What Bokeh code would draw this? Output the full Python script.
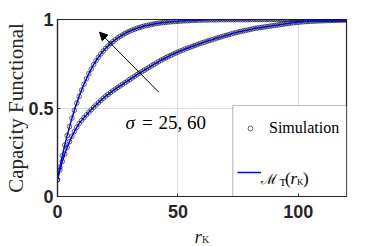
import math
from bokeh.plotting import figure
from bokeh.layouts import column
from bokeh.models import (FixedTicker, Label, Legend, LegendItem, Arrow,
                          NormalHead, ColumnDataSource, Range1d, BoxAnnotation)
from bokeh.embed import file_html
from bokeh.resources import INLINE

# ---------------- data ----------------
r_k = list(range(0, 121))

cap_sigma25 = [
    0.095, 0.165, 0.230, 0.290, 0.344, 0.395, 0.443, 0.487, 0.528, 0.566,
    0.601, 0.634, 0.665, 0.694, 0.720, 0.745, 0.767, 0.787, 0.806, 0.822,
    0.837, 0.851, 0.864, 0.875, 0.886, 0.896, 0.905, 0.913, 0.921, 0.928,
    0.934, 0.940, 0.945, 0.950, 0.955, 0.959, 0.963, 0.966, 0.969, 0.972,
    0.975, 0.977, 0.979, 0.981, 0.983, 0.984, 0.986, 0.987, 0.988, 0.989,
    0.990, 0.991, 0.992, 0.993, 0.993, 0.994, 0.995, 0.995, 0.996, 0.996,
    0.997, 0.997, 0.997, 0.998, 0.998, 0.998, 0.998, 0.999, 0.999, 0.999,
    0.999, 0.999, 0.999, 0.999, 0.999, 0.999, 0.999, 0.999, 0.999, 0.999,
    0.999, 1.000, 1.000, 1.000, 1.000, 1.000, 1.000, 1.000, 1.000, 1.000,
    1.000, 1.000, 1.000, 1.000, 1.000, 1.000, 1.000, 1.000, 1.000, 1.000,
    1.000, 1.000, 1.000, 1.000, 1.000, 1.000, 1.000, 1.000, 1.000, 1.000,
    1.000, 1.000, 1.000, 1.000, 1.000, 1.000, 1.000, 1.000, 1.000, 1.000,
    1.000,
]

cap_sigma60 = [
    0.095, 0.150, 0.198, 0.240, 0.277, 0.310, 0.340, 0.367, 0.391, 0.412,
    0.430, 0.446, 0.461, 0.476, 0.490, 0.504, 0.517, 0.530, 0.543, 0.555,
    0.567, 0.577, 0.587, 0.597, 0.607, 0.616, 0.625, 0.634, 0.643, 0.652,
    0.661, 0.670, 0.679, 0.688, 0.697, 0.705, 0.713, 0.721, 0.730, 0.738,
    0.746, 0.754, 0.762, 0.770, 0.777, 0.784, 0.791, 0.797, 0.804, 0.810,
    0.816, 0.822, 0.827, 0.833, 0.838, 0.843, 0.848, 0.853, 0.858, 0.863,
    0.868, 0.872, 0.877, 0.881, 0.885, 0.890, 0.894, 0.898, 0.902, 0.906,
    0.910, 0.914, 0.918, 0.922, 0.925, 0.929, 0.932, 0.935, 0.938, 0.941,
    0.944, 0.947, 0.950, 0.952, 0.954, 0.956, 0.958, 0.960, 0.962, 0.964,
    0.966, 0.968, 0.970, 0.972, 0.974, 0.976, 0.978, 0.980, 0.981, 0.983,
    0.984, 0.986, 0.987, 0.988, 0.989, 0.990, 0.990, 0.991, 0.992, 0.992,
    0.993, 0.993, 0.994, 0.994, 0.995, 0.995, 0.996, 0.996, 0.996, 0.997,
    0.997,
]

x_ticks = [0, 50, 100]
x_tick_labels = ["0", "50", "100"]
y_ticks = [0, 0.5, 1]
y_tick_labels = ["0", "0.5", "1"]

x_label = ("r", "K")
y_label = "Capacity Functional"
legend_labels = ["Simulation", "\u2133", "T", "(", "r", "K", ")"]
annotation_text = ("\u03c3", "=", "25, 60")

# ---------------- main figure ----------------
W, H1, H2 = 382, 226, 20
ML, MR, MT, MB = 57, 36, 19, 30
p1 = figure(width=W, height=H1, x_range=Range1d(0, 120), y_range=Range1d(0, 1),
            output_backend="svg", toolbar_location=None,
            min_border_left=ML, min_border_right=MR,
            min_border_top=MT, min_border_bottom=MB)
p1.background_fill_color = "white"
p1.border_fill_color = "white"
p1.outline_line_color = "#262626"
p1.outline_line_width = 1.2
p1.outline_line_alpha = 1.0

AX = "#262626"
for ax in (p1.xaxis[0], p1.yaxis[0]):
    ax.axis_line_color = AX
    ax.axis_line_width = 1.2
    ax.major_tick_line_color = AX
    ax.major_tick_in = 3
    ax.major_tick_out = 0
    ax.minor_tick_line_color = None
    ax.major_label_text_font = "Liberation Sans"
    ax.major_label_text_font_style = "bold"
    ax.major_label_text_font_size = "18px"
    ax.major_label_text_color = AX
p1.xaxis.ticker = FixedTicker(ticks=x_ticks)
p1.yaxis.ticker = FixedTicker(ticks=y_ticks)
p1.xaxis.major_label_overrides = {t: s for t, s in zip(x_ticks, x_tick_labels)}
p1.yaxis.major_label_overrides = {t: s for t, s in zip(y_ticks, y_tick_labels)}
p1.xaxis.major_label_standoff = 8
p1.yaxis.major_label_standoff = 4
p1.yaxis.major_label_text_align = "right"

p1.yaxis.axis_label = y_label
p1.yaxis.axis_label_text_font = "Liberation Serif"
p1.yaxis.axis_label_text_font_style = "normal"
p1.yaxis.axis_label_text_font_size = "21px"
p1.yaxis.axis_label_text_color = AX
p1.yaxis.axis_label_standoff = -3

p1.xgrid.ticker = FixedTicker(ticks=x_ticks)
p1.ygrid.ticker = FixedTicker(ticks=y_ticks)
p1.grid.grid_line_color = "#dedede"
p1.grid.grid_line_width = 1

# pixel -> data helpers (main figure pixel coordinates)
FX0, FX1 = ML, W - MR
FY0, FY1 = MT, H1 - MB
def dx(px):
    return (px - FX0) / (FX1 - FX0) * 120.0
def dy(py):
    return (FY1 - py) / (FY1 - FY0)

# legend box (above grid, below glyphs)
p1.add_layout(BoxAnnotation(left=dx(232.3), top=dy(105), fill_color="white",
                            fill_alpha=1.0, line_color=AX, line_width=1.2,
                            level="underlay"))

# ---------------- glyphs ----------------
src = ColumnDataSource(dict(r=r_k, s25=cap_sigma25, s60=cap_sigma60))
sc1 = p1.scatter("r", "s25", source=src, marker="circle", size=4.6,
                 fill_color=None, line_color="black", line_width=0.6)
sc2 = p1.scatter("r", "s60", source=src, marker="circle", size=4.6,
                 fill_color=None, line_color="black", line_width=0.6)
l1 = p1.line("r", "s25", source=src, line_color="#0000ff", line_width=1.5)
l2 = p1.line("r", "s60", source=src, line_color="#0000ff", line_width=1.5)

# ---------------- legend entries ----------------
leg_a = Legend(items=[LegendItem(label=legend_labels[0], renderers=[sc1])],
               location=(187, 58), margin=0, padding=0,
               label_height=20, glyph_height=20, glyph_width=12,
               label_standoff=13, label_text_font="Liberation Serif",
               label_text_font_size="16px", label_text_color="black",
               border_line_color=None, background_fill_alpha=0.0)
leg_b = Legend(items=[LegendItem(label=" ", renderers=[l1])],
               location=(180, 14), margin=0, padding=0,
               label_height=20, glyph_height=20, glyph_width=24,
               label_standoff=0, label_width=1,
               label_text_font="Liberation Serif", label_text_font_size="16px",
               border_line_color=None, background_fill_alpha=0.0)
p1.add_layout(leg_a)
p1.add_layout(leg_b)

def lab(fig, text, x, y, size, font="Liberation Serif", style="normal",
        color="black"):
    fig.add_layout(Label(x=x, y=y, text=text, text_font=font,
                         text_font_size=f"{size}px", text_font_style=style,
                         text_align="left", text_baseline="alphabetic",
                         text_color=color, level="overlay"))

# legend math label  M_T(r_K)
lab(p1, legend_labels[1], dx(260), dy(178), 14, font="DejaVu Serif")
lab(p1, legend_labels[2], dx(279), dy(181), 11)
lab(p1, legend_labels[3], dx(284.5), dy(178), 17)
lab(p1, legend_labels[4], dx(290), dy(178), 17, style="italic")
lab(p1, legend_labels[5], dx(296.5), dy(181), 9)
lab(p1, legend_labels[6], dx(302.5), dy(178), 17)

# annotation sigma = 25, 60 and arrow
lab(p1, annotation_text[0], dx(125), dy(121.5), 19, style="italic")
lab(p1, annotation_text[1], dx(141.5), dy(121.5), 19)
lab(p1, annotation_text[2], dx(158), dy(121.5), 19)
p1.add_layout(Arrow(end=NormalHead(size=8, fill_color="black", line_color="black"),
                    x_start=dx(158.3), y_start=dy(91.7),
                    x_end=dx(99), y_end=dy(31.7),
                    line_color="black", line_width=1))

# ---------------- strip below for the x-axis label r_K ----------------
# same horizontal frame as the main plot; y = distance from the page bottom
p2 = figure(width=W, height=H2, x_range=p1.x_range, y_range=Range1d(1, H2 - 1),
            output_backend="svg", toolbar_location=None,
            x_axis_location=None, y_axis_location=None,
            min_border_left=ML, min_border_right=MR,
            min_border_top=1, min_border_bottom=1)
p2.outline_line_color = None
p2.background_fill_color = "white"
p2.border_fill_color = "white"
p2.xgrid.visible = False
p2.ygrid.visible = False
lab(p2, x_label[0], dx(194), 246 - 236, 19, style="italic", color=AX)
lab(p2, x_label[1], dx(201.5), 246 - 239, 10, color=AX)

p = column(p1, p2, spacing=0)
open("out.html", "w").write(file_html(p, INLINE))
